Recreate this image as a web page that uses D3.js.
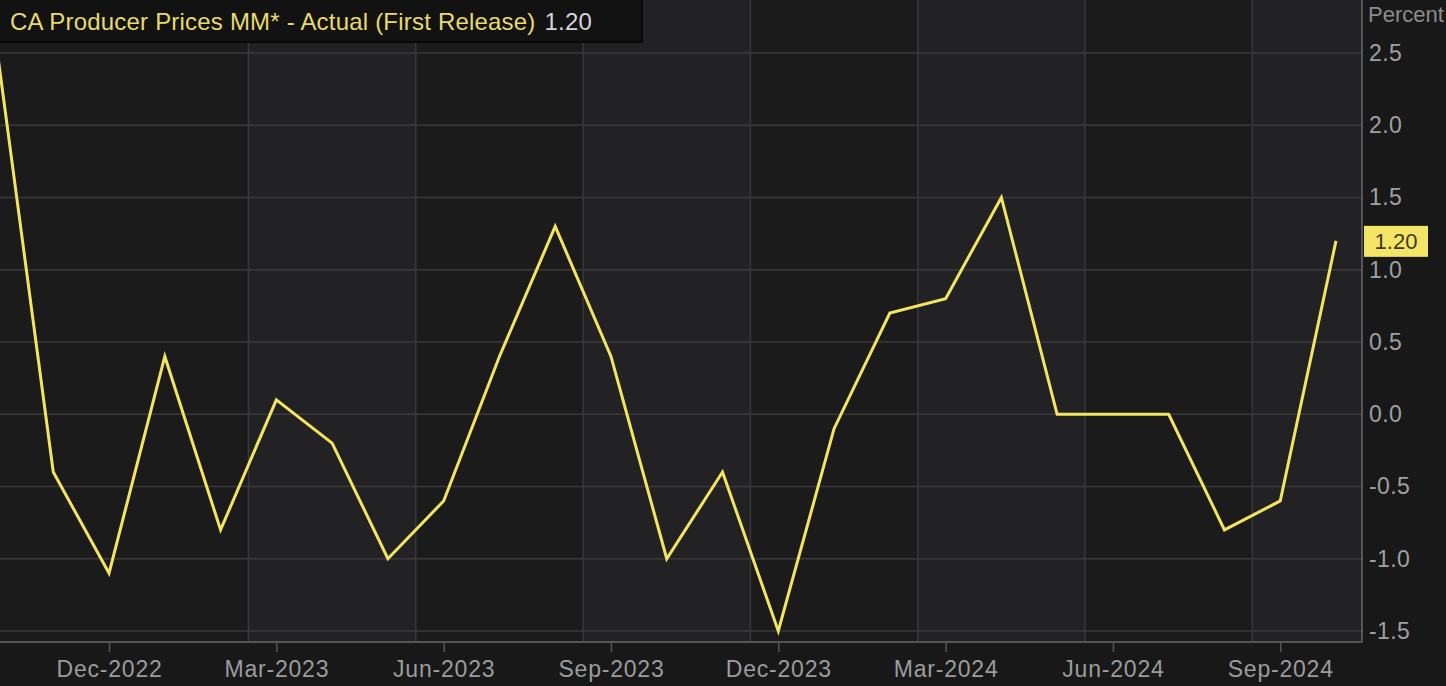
<!DOCTYPE html>
<html>
<head>
<meta charset="utf-8">
<script src="https://cdn.jsdelivr.net/npm/d3@7"></script>
<style>
html,body{margin:0;padding:0;background:#181818;overflow:hidden;}
svg{display:block;}
text{font-family:"Liberation Sans",Arial,sans-serif;}
</style>
</head>
<body>
<svg id="chart" width="1446" height="686"></svg>
<script>
// ---- data ----
const months = ["Oct-2022","Nov-2022","Dec-2022","Jan-2023","Feb-2023","Mar-2023","Apr-2023","May-2023","Jun-2023","Jul-2023","Aug-2023","Sep-2023","Oct-2023","Nov-2023","Dec-2023","Jan-2024","Feb-2024","Mar-2024","Apr-2024","May-2024","Jun-2024","Jul-2024","Aug-2024","Sep-2024","Oct-2024"];
const values = [2.5,-0.4,-1.1,0.4,-0.8,0.1,-0.2,-1.0,-0.6,0.4,1.3,0.4,-1.0,-0.4,-1.5,-0.1,0.7,0.8,1.5,0.0,0.0,0.0,-0.8,-0.6,1.2];
const tickLabels = ["Dec-2022","Mar-2023","Jun-2023","Sep-2023","Dec-2023","Mar-2024","Jun-2024","Sep-2024"];
const yTicks = [-1.5,-1.0,-0.5,0.0,0.5,1.0,1.5,2.0,2.5];
const titleText = "CA Producer Prices MM* - Actual (First Release)";
const lastLabel = "1.20";
const unitLabel = "Percent";

// ---- layout ----
const W = 1446, H = 686;
const plotRight = 1362, plotBottom = 642;
const svg = d3.select("#chart");

const x = d3.scaleLinear().domain([0, months.length - 1]).range([-2.5, 1336]);
const y = d3.scaleLinear().domain([-1.5, 2.5]).range([631, 53]);

svg.append("rect").attr("width", W).attr("height", H).attr("fill", "#181818");

const defs = svg.append("defs");
defs.append("clipPath").attr("id", "plotclip")
  .append("rect").attr("x", 0).attr("y", 0).attr("width", plotRight).attr("height", plotBottom);

const plot = svg.append("g").attr("clip-path", "url(#plotclip)");
plot.append("rect").attr("x", 0).attr("y", 0).attr("width", plotRight).attr("height", plotBottom).attr("fill", "#1b1b1c");

// quarter boundaries (from tick months), skipping the first
const tickIdx = tickLabels.map(t => months.indexOf(t));
const bounds = tickIdx.slice(1).map(i => i - 0.5);
bounds.forEach((b, k) => {
  if (k % 2 === 0) {
    const end = k + 1 < bounds.length ? x(bounds[k + 1]) : plotRight;
    plot.append("rect").attr("x", x(b)).attr("y", 0).attr("width", end - x(b)).attr("height", plotBottom).attr("fill", "#222224");
  }
});

// horizontal grid
plot.selectAll("line.hg").data(yTicks).enter().append("line")
  .attr("x1", 0).attr("x2", plotRight)
  .attr("y1", d => y(d)).attr("y2", d => y(d))
  .attr("stroke", "#3a3a3b").attr("stroke-width", 1.5);
// vertical grid
plot.selectAll("line.vg").data(bounds).enter().append("line")
  .attr("x1", d => x(d)).attr("x2", d => x(d))
  .attr("y1", 0).attr("y2", plotBottom)
  .attr("stroke", "#38383a").attr("stroke-width", 1.5);

// line
const line = d3.line().x((d, i) => x(i)).y(d => y(d));
plot.append("path").datum(values).attr("d", line)
  .attr("fill", "none").attr("stroke", "#f3e462").attr("stroke-width", 3)
  .attr("stroke-linejoin", "miter");

// axes lines
svg.append("line").attr("x1", 0).attr("x2", plotRight + 0.5).attr("y1", plotBottom).attr("y2", plotBottom)
  .attr("stroke", "#555557").attr("stroke-width", 2);
svg.append("line").attr("x1", plotRight).attr("x2", plotRight).attr("y1", 0).attr("y2", plotBottom)
  .attr("stroke", "#555557").attr("stroke-width", 2);

// x axis ticks and labels
const xg = svg.append("g").attr("transform", `translate(0,${plotBottom})`);
const xAxis = d3.axisBottom(x).tickValues(tickIdx).tickFormat(i => months[i]).tickSize(10).tickPadding(9);
xg.call(xAxis);
xg.select(".domain").remove();
xg.selectAll(".tick line").attr("stroke", "#555557").attr("stroke-width", 1.5);
xg.selectAll(".tick text").attr("fill", "#9c9c9e").attr("font-size", 23)
  .attr("font-family", "'Liberation Sans',Arial,sans-serif").attr("dy", "0.71em").attr("letter-spacing", "0.8px");

// y axis labels
const fmt = d3.format(".1f");
const yg = svg.append("g").attr("transform", `translate(${plotRight},0)`);
const yAxis = d3.axisRight(y).tickValues(yTicks).tickFormat(d => fmt(d).replace("\u2212", "-")).tickSize(0).tickPadding(7);
yg.call(yAxis);
yg.select(".domain").remove();
yg.selectAll(".tick text").attr("fill", "#a0a0a2").attr("font-size", 23)
  .attr("font-family", "'Liberation Sans',Arial,sans-serif").attr("letter-spacing", "0.4px");

// unit label
svg.append("text").attr("x", 1368).attr("y", 22).attr("fill", "#8c8c8e").attr("font-size", 22).text(unitLabel);

// last value box
const lastY = y(values[values.length - 1]);
svg.append("rect").attr("x", 1364).attr("y", lastY - 15).attr("width", 64).attr("height", 31).attr("fill", "#f5e566");
svg.append("text").attr("x", 1396).attr("y", lastY + 8).attr("text-anchor", "middle")
  .attr("fill", "#3a3a2a").attr("font-size", 22).text(lastLabel);

// title box
svg.append("rect").attr("x", -1).attr("y", -1).attr("width", 643).attr("height", 43)
  .attr("fill", "#121212").attr("stroke", "#080808").attr("stroke-width", 2);
const tt = svg.append("text").attr("x", 10).attr("y", 30).attr("font-size", 24).attr("letter-spacing", "0.2px");
tt.append("tspan").attr("fill", "#e8da6e").text(titleText);
tt.append("tspan").attr("fill", "#d4d4dc").attr("dx", 9).text(lastLabel);
</script>
</body>
</html>
